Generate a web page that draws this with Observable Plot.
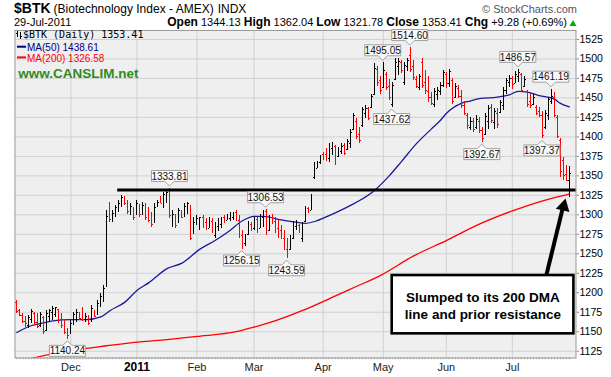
<!DOCTYPE html>
<html><head><meta charset="utf-8">
<script src="https://cdn.jsdelivr.net/npm/d3@7"></script>
<script src="https://cdn.jsdelivr.net/npm/@observablehq/plot@0.6"></script>
<style>
html,body{margin:0;padding:0;background:#fff;}
#wrap{position:relative;width:611px;height:377px;overflow:hidden;font-family:"Liberation Sans",Arial,sans-serif;}
#wrap svg{position:absolute;left:0;top:0;}
</style></head><body>
<div id="wrap"><div id="chart"></div>
<svg id="over" width="611" height="377" style="pointer-events:none" font-family="Liberation Sans, Arial, sans-serif">
  <text x="14" y="13.3"><tspan font-size="14" font-weight="bold">$BTK</tspan><tspan font-size="12" dx="3">(Biotechnology Index - AMEX)</tspan><tspan font-size="12" dx="4">INDX</tspan></text>
  <text x="577" y="12.7" text-anchor="end" font-size="11" fill="#555">© StockCharts.com</text>
  <text x="14" y="26.2" font-size="11">29-Jul-2011</text>
  <text x="567" y="26.2" text-anchor="end" font-size="11"><tspan font-weight="bold" font-size="12">Open</tspan> 1344.13 <tspan font-weight="bold" font-size="12">High</tspan> 1362.04 <tspan font-weight="bold" font-size="12">Low</tspan> 1321.78 <tspan font-weight="bold" font-size="12">Close</tspan> 1353.41 <tspan font-weight="bold" font-size="12">Chg</tspan> +9.28 (+0.69%)</text>
  <polygon points="569.5,26 576.5,26 573,20" fill="#00b000"/>
  <g stroke="#000" stroke-width="1" shape-rendering="crispEdges">
    <line x1="17.5" y1="31" x2="17.5" y2="37"/><line x1="16" y1="33.5" x2="17.5" y2="33.5"/>
    <line x1="20.5" y1="32" x2="20.5" y2="38.5"/><line x1="20.5" y1="36.5" x2="22" y2="36.5"/>
  </g>
  <text x="23" y="38.3" font-size="10" font-family="DejaVu Sans Mono, monospace">$BTK (Daily) 1353.41</text>
  <line x1="17" y1="46.7" x2="26" y2="46.7" stroke="#000080" stroke-width="2"/>
  <text x="27" y="50.6" font-size="10" fill="#000080">MA(50) 1438.61</text>
  <line x1="17" y1="57.4" x2="26" y2="57.4" stroke="#ff0000" stroke-width="2"/>
  <text x="27" y="61.6" font-size="10" fill="#ff0000">MA(200) 1326.58</text>
  <text x="18.3" y="78.3" font-size="13.5" font-weight="bold" fill="#2e8b22">www.CANSLIM.net</text>
</svg>
</div>
<script>
// Daily OHLC bars, 4 Nov 2010 (index 0) to 29 Jul 2011 (index 184)
const O = [1188,1177,1171,1163,1158,1166,1174,1162,1158,1168,1152,1170,1175,1172,1178,1166,1160,1150,1148,1160,1170,1174,1178,1165,1170,1163,1176,1172,1184,1192,
1210,1310,1293,1300,1306,1313,1321,1314,1302,1309,1300,1312,1301,1311,1300,1295,1290,1311,1320,1312,1320,1330,1290,1299,1290,1304,1298,1308,1310,1276,
1288,1285,1296,1290,1283,1292,1273,1285,1288,1297,1293,1295,1296,1303,1293,1274,1263,1275,1288,1282,1294,1282,1297,1304,1280,1296,1291,1282,1280,1270,
1256,1255,1270,1285,1286,1270,1291,1308,1306,1348,1360,1367,1377,1378,1372,1385,1388,1375,1381,1389,1384,1392,1410,1420,1403,1414,1430,1436,1438,1455,
1487,1472,1463,1480,1465,1442,1474,1490,1495,1470,1490,1505,1490,1474,1464,1496,1470,1458,1450,1441,1455,1458,1466,1480,1468,1472,1450,1462,1452,1440,
1428,1412,1420,1412,1420,1408,1403,1420,1438,1418,1430,1431,1440,1460,1470,1475,1468,1478,1480,1465,1458,1445,1441,1438,1432,1427,1412,1428,1446,1450,
1425,1396,1370,1352,1344.13];
const H = [1190,1179,1173,1169,1171,1179,1175,1173,1175,1169,1177,1179,1182,1181,1179,1173,1164,1154,1164,1175,1178,1175,1181,1173,1171,1184,1177,1190,1199,1209,
1305,1316,1306,1312,1318,1325,1323,1318,1314,1310,1318,1313,1316,1314,1310,1303,1314,1318,1323,1329,1331,1333.81,1305,1300,1308,1305,1314,1316,1312,1297,
1299,1297,1299,1295,1297,1295,1290,1295,1297,1299,1301,1303,1303,1306,1299,1280,1275,1292,1290,1297,1297,1301,1305,1306.53,1299,1301,1297,1293,1286,1280,
1269,1274,1291,1293,1287,1290,1311,1309,1326.5,1367,1368,1376,1380,1385,1391,1393,1389,1387,1391,1391,1397,1410,1430,1423,1412,1438,1440,1438,1455,1494,
1490,1478,1495.05,1483,1474,1470,1500,1500,1498,1496,1500,1514.6,1498,1477,1480,1500,1485,1477,1457,1462,1464,1470,1485,1483,1487,1475,1468,1466,1460,1445,
1430,1425,1423,1427,1425,1412,1430,1440,1442,1436,1436,1447,1464,1475,1479,1478,1484,1486.57,1481,1478,1460,1456,1454,1440,1438,1432,1434,1451,1461.19,1457,
1428,1398,1374,1363,1362.04];
const L = [1173,1169,1160,1156,1154,1160,1158,1154,1156,1147,1150,1162,1164,1168,1160,1154,1146,1140.24,1147,1158,1162,1164,1163,1162,1158,1162,1168,1171,1181,1188,
1207,1290,1290,1297,1303,1310,1312,1301,1299,1293,1299,1297,1299,1293,1290,1284,1289,1309,1314,1308,1314,1295,1284,1282,1289,1295,1297,1301,1267,1275,
1286,1280,1282,1280,1282,1276,1270,1278,1282,1289,1293,1291,1293,1291,1269,1256.15,1260,1273,1278,1280,1276,1282,1284,1273,1279,1287,1276,1270,1268,1254,
1243.59,1254,1268,1280,1276,1264,1290,1302,1305,1345,1359,1365,1370,1368,1367,1376,1363,1374,1378,1376,1383,1385,1408,1397,1391,1412,1423,1421,1436,1453,
1465,1455,1462,1460,1447,1437.62,1472,1479,1481,1466,1484,1483,1472,1462,1460,1462,1455,1444,1440,1438,1447,1453,1464,1462,1464,1442,1449,1449,1436,1427,
1410,1408,1406,1410,1404,1392.67,1402,1410,1417,1410,1411,1430,1434,1455,1464,1461,1468,1470,1457,1464,1438,1436,1440,1427,1425,1397.37,1410,1421,1441,1425,
1398,1348,1344,1343,1321.78];
const C = [1176,1171,1163,1160,1168,1176,1162,1157,1172,1150,1174,1177,1180,1181,1165,1158,1149,1145,1161,1172,1175,1167,1166,1170,1161,1180,1170,1186,1195,1206,
1298,1294,1302,1309,1315,1322,1315,1304,1311,1296,1315,1300,1312,1296,1293,1288,1310,1316,1315,1326,1329,1299,1301,1286,1305,1297,1311,1314,1270,1290,
1295,1296,1285,1283,1293,1279,1287,1292,1295,1291,1299,1301,1302,1294,1272,1262,1273,1289,1281,1293,1280,1298,1302,1278,1297,1290,1280,1276,1272,1258,
1249,1271,1288,1291,1279,1287,1308,1304,1324,1362,1366,1374,1372,1371,1386,1390,1368,1383,1388,1379,1394,1406,1427,1400,1395,1435,1437,1424,1452,1488,
1470,1460,1485,1463,1450,1466,1496,1497,1485,1492,1498,1487,1476,1465,1478,1466,1460,1450,1443,1458,1460,1466,1482,1468,1484,1446,1465,1452,1440,1430,
1414,1420,1410,1422,1408,1398,1426,1436,1421,1432,1416,1444,1460,1472,1475,1467,1480,1483,1460,1474,1442,1440,1450,1430,1428,1402,1430,1448,1452,1428,
1400,1355,1350,1344.13,1353.41];

// Moving averages: [bar index, value]
const ma50 = [[0,1149],[5,1158],[9,1161.5],[12,1164],[18,1165.5],[23,1165.5],[28,1169],[31,1177],[36,1188],[40,1203],[44,1213],[50,1231],[55,1238],[61,1256],[66,1267],[71,1280],[75,1292],[79,1298],[82,1298],[88,1293.5],[93,1290.5],[96,1289],[100,1292.5],[104,1299],[109,1308],[114,1318],[119,1331],[124,1350],[128,1368],[133,1391],[138,1410],[141,1421],[143,1430],[148,1443],[151,1446],[154,1449],[160,1451],[164,1454],[167,1458.5],[170,1457.5],[174,1453],[179,1448.5],[181,1443],[184,1438.61]];
const ma200 = [[4,1115],[11,1121],[20,1127],[30,1132],[41,1137],[50,1140],[60,1144],[73,1150],[79,1156],[86,1164],[95,1177],[105,1194],[113,1208],[121,1222],[132,1247],[143,1267],[154,1288],[165,1305],[176,1319],[184,1326.58]];

// Labelled highs and lows
const highLabels = [[51,1333.81],[83,1306.53],[122,1495.05],[131,1514.60],[167,1486.57],[178,1461.19]];
const lowLabels = [[17,1140.24],[75,1256.15],[90,1243.59],[125,1437.62],[155,1392.67],[175,1397.37]];

const monthIdx = [18,40,60,79,102,122,143,165];
const monthLabels = ["Dec","2011","Feb","Mar","Apr","May","Jun","Jul"];
const yTicks = [1125,1150,1175,1200,1225,1250,1275,1300,1325,1350,1375,1400,1425,1450,1475,1500,1525];

const resistanceLevel = 1332;
const resistanceStart = 33.6;
const noteLines = "Slumped to its 200 DMA\nline and prior resistance";

const xMin = -0.6, xMax = 186.2, yMin = 1116.3, yMax = 1536.5;

const bars = O.map((o, i) => ({
  i, o, h: H[i], l: L[i], c: C[i],
  col: (i === 0 ? C[0] >= O[0] : C[i] >= C[i - 1]) ? "#000000" : "#ff0000"
}));
const allIdx = bars.map(d => d.i);
const months = monthIdx.map((i, k) => ({i, label: monthLabels[k]}));

// boxed price labels with a small pointer, positioned through the plot's scales
function priceLabels(list, above) {
  return (index, scales) => {
    const g = d3.create("svg:g");
    const w = 36, h = 11, p = 4.5, gap = 2;
    for (const [i, v] of list) {
      const px = scales.x(i), py = scales.y(v);
      let path, top;
      if (above) {
        top = py - gap - p - h;
        const b = top + h;
        path = `M${px - w/2},${top}H${px + w/2}V${b}H${px + p}L${px},${b + p}L${px - p},${b}H${px - w/2}Z`;
      } else {
        top = py + gap + p;
        path = `M${px - w/2},${top}H${px - p}L${px},${top - p}L${px + p},${top}H${px + w/2}V${top + h}H${px - w/2}Z`;
      }
      g.append("path").attr("d", path).attr("fill", "#f9f9f9").attr("stroke", "#a0a0a0").attr("stroke-width", 1);
      g.append("text").attr("x", px).attr("y", top + h / 2).attr("dy", "0.36em")
        .attr("text-anchor", "middle").attr("font-size", 10).attr("fill", "#111")
        .attr("font-family", "Liberation Sans, Arial, sans-serif").text(v.toFixed(2));
    }
    return g.node();
  };
}

const chart = Plot.plot({
  width: 611, height: 377,
  marginTop: 30, marginBottom: 19.5, marginLeft: 14.5, marginRight: 35.5,
  x: {domain: [xMin, xMax], axis: null},
  y: {domain: [yMin, yMax], axis: null},
  color: {type: "identity"},
  style: {background: "transparent", fontFamily: "Liberation Sans, Arial, sans-serif", color: "#000"},
  marks: [
    Plot.frame({fill: "#efefef", stroke: null}),
    Plot.gridY(yTicks, {stroke: "#d0d0d0", strokeOpacity: 1}),
    Plot.gridX(monthIdx, {stroke: "#d0d0d0", strokeOpacity: 1}),
    Plot.axisY(yTicks, {anchor: "right", tickSize: 2.5, tickPadding: 1, fontSize: 10.5, tickFormat: d => String(d), stroke: "#888"}),
    Plot.ruleX(allIdx, {x: d => d, y1: yMin, y2: yMin - 2.2, stroke: "#999", strokeWidth: 1}),
    Plot.text(months.filter(d => d.label !== "2011"), {x: "i", text: "label", frameAnchor: "bottom", lineAnchor: "middle", dy: 9, fontSize: 11, fill: "#222"}),
    Plot.text(months.filter(d => d.label === "2011"), {x: "i", text: "label", frameAnchor: "bottom", lineAnchor: "middle", dy: 9, fontSize: 12, fontWeight: "bold", fill: "#000"}),
    Plot.frame({stroke: "#999", strokeWidth: 1}),
    Plot.line(ma200, {x: d => d[0], y: d => d[1], stroke: "#ff0000", strokeWidth: 1.3, curve: "monotone-x", clip: true}),
    Plot.line(ma50, {x: d => d[0], y: d => d[1], stroke: "#1a1a99", strokeWidth: 1.3, curve: "monotone-x", clip: true}),
    Plot.ruleX(bars, {x: "i", y1: "l", y2: "h", stroke: "col", strokeWidth: 1, shapeRendering: "crispEdges"}),
    Plot.link(bars, {x1: d => d.i - 0.45, x2: "i", y1: "o", y2: "o", stroke: "col", strokeWidth: 1, shapeRendering: "crispEdges"}),
    Plot.link(bars, {x1: "i", x2: d => d.i + 0.45, y1: "c", y2: "c", stroke: "col", strokeWidth: 1, shapeRendering: "crispEdges"}),
    Plot.ruleY([resistanceLevel], {x1: resistanceStart, x2: xMax, stroke: "#000", strokeWidth: 3}),
    priceLabels(highLabels, true),
    priceLabels(lowLabels, false),
    Plot.rect([{x1: 125.0, x2: 185.5, y1: 1147.3, y2: 1222.1}], {x1: "x1", x2: "x2", y1: "y1", y2: "y2", fill: "#fff", stroke: "#000", strokeWidth: 2.6}),
    Plot.text([noteLines], {x: 155.2, y: 1184, text: d => d, fontSize: 13.5, fontWeight: "bold", lineHeight: 1.25, fill: "#000"}),
    Plot.link([{x1: 176.3, y1: 1222.1, x2: 182.0, y2: 1312}], {x1: "x1", y1: "y1", x2: "x2", y2: "y2", stroke: "#000", strokeWidth: 4}),
    Plot.dot([{x: 182.07, y: 1310.8}], {x: "x", y: "y", symbol: "triangle", r: 5.2, rotate: 14, fill: "#000", stroke: null})
  ]
});
document.getElementById("chart").appendChild(chart);
</script>
</body></html>
